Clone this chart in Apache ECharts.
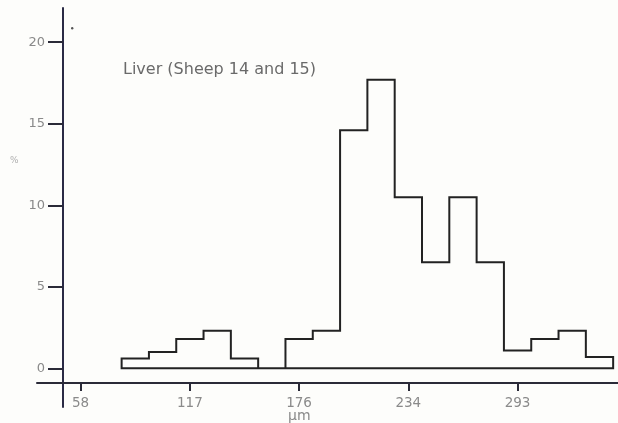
<!DOCTYPE html>
<html>
<head>
<meta charset="utf-8">
<script src="https://cdn.jsdelivr.net/npm/echarts@6/dist/echarts.min.js"></script>
<style>
  html, body { margin: 0; padding: 0; background: #fdfdfb; }
  #chart { width: 618px; height: 423px; }
</style>
</head>
<body>
<div id="chart"></div>
<script>
// Size classes: first bin edge and common bin width (µm)
const binStart = 80.6;
const binWidth = 14.65;
// Percentage of cells in each size class
const percents = [0.6, 1.0, 1.8, 2.3, 0.6, 0, 1.8, 2.3, 14.6, 17.7, 10.5, 6.5, 10.5, 6.5, 1.1, 1.8, 2.3, 0.7];
// Axis ticks
const xTickValues = [58.6, 117.2, 175.8, 234.4, 293.0];
const xTickLabels = ['58', '117', '176', '234', '293'];
const yTickValues = [0, 5, 10, 15, 20];

const edges = [];
for (let i = 0; i <= percents.length; i++) edges.push(binStart + i * binWidth);

const FONT = '"DejaVu Sans", "Liberation Sans", sans-serif';
const labelFont = { fontFamily: FONT, fontSize: 13.5, color: '#8a8a8a' };

const chart = echarts.init(document.getElementById('chart'), null, { renderer: 'canvas' });
chart.setOption({
  backgroundColor: '#fdfdfb',
  animation: false,
  grid: { left: 37, right: 0, top: 8, bottom: 16 },
  xAxis: {
    type: 'value',
    min: 35.2,
    max: 346.9,
    offset: -24,
    splitLine: { show: false },
    axisLine: { show: true, onZero: false, lineStyle: { color: '#2a2a38', width: 2 } },
    axisTick: { show: true, customValues: xTickValues, length: 8, lineStyle: { color: '#2a2a38', width: 2 } },
    axisLabel: {
      customValues: xTickValues,
      margin: 13,
      formatter: (v) => xTickLabels[xTickValues.findIndex(t => Math.abs(t - v) < 0.01)] || '',
      ...labelFont
    }
  },
  yAxis: {
    type: 'value',
    min: -2.37,
    max: 22.1,
    offset: -26,
    splitLine: { show: false },
    axisLine: { show: true, onZero: false, lineStyle: { color: '#2a2a45', width: 2 } },
    axisTick: { show: true, customValues: yTickValues, length: 15, lineStyle: { color: '#2a2a38', width: 2 } },
    axisLabel: { customValues: yTickValues, margin: 18, ...labelFont, fontSize: 13 }
  },
  graphic: [
    { type: 'text', left: 123, top: 62, style: { text: 'Liver (Sheep 14 and 15)', fill: '#6a6a6a', font: '16px ' + FONT } },
    { type: 'text', left: 10, top: 156, style: { text: '%', fill: '#b0b0b0', font: '9px ' + FONT } },
    { type: 'text', left: 288, top: 409, style: { text: 'μm', fill: '#8a8a8a', font: '14px ' + FONT } },
    { type: 'circle', left: 71, top: 27, shape: { r: 1.2 }, style: { fill: '#555' } }
  ],
  series: [{
    type: 'custom',
    coordinateSystem: 'cartesian2d',
    data: [[0, 0]],
    renderItem: function (params, api) {
      // Closed step outline of the histogram, including its zero baseline
      const pts = [api.coord([edges[0], 0])];
      percents.forEach((p, i) => {
        pts.push(api.coord([edges[i], p]));
        pts.push(api.coord([edges[i + 1], p]));
      });
      pts.push(api.coord([edges[edges.length - 1], 0]));
      return {
        type: 'polygon',
        shape: { points: pts },
        style: { fill: 'none', stroke: '#222', lineWidth: 2, lineJoin: 'miter' }
      };
    }
  }]
});
</script>
</body>
</html>
